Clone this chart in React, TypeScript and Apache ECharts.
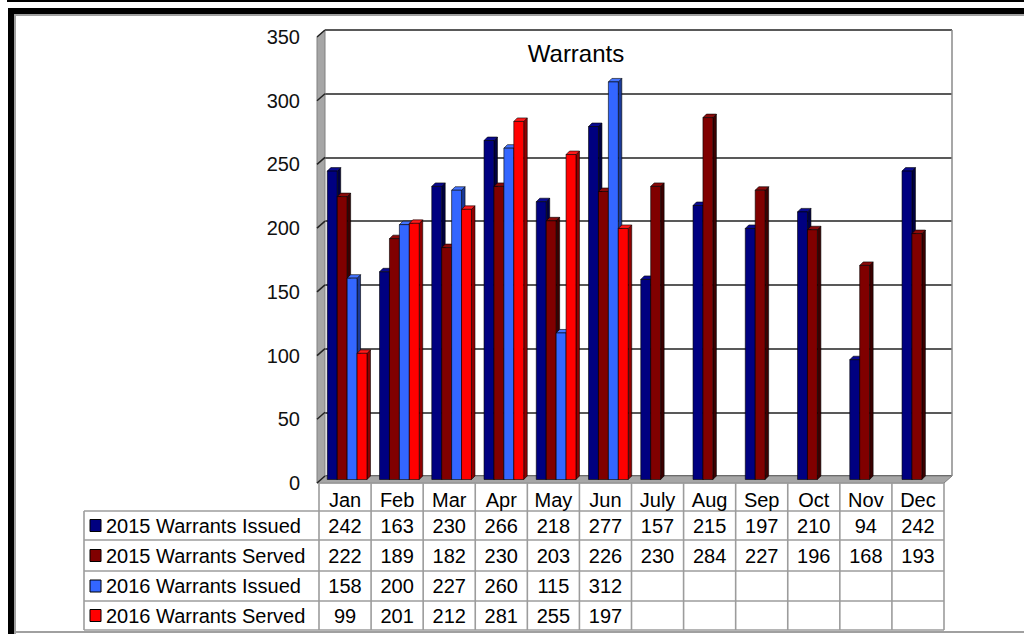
import React, { useEffect, useRef } from "react";
import * as echarts from "echarts";

const MONTHS = ["Jan", "Feb", "Mar", "Apr", "May", "Jun", "July", "Aug", "Sep", "Oct", "Nov", "Dec"];
const ISSUED_2015 = [242, 163, 230, 266, 218, 277, 157, 215, 197, 210, 94, 242];
const SERVED_2015 = [222, 189, 182, 230, 203, 226, 230, 284, 227, 196, 168, 193];
const ISSUED_2016 = [158, 200, 227, 260, 115, 312, null, null, null, null, null, null];
const SERVED_2016 = [99, 201, 212, 281, 255, 197, null, null, null, null, null, null];
const SERIES_NAMES = ["2015 Warrants Issued", "2015 Warrants Served", "2016 Warrants Issued", "2016 Warrants Served"];
const Y_TICKS = [0, 50, 100, 150, 200, 250, 300, 350];

const SERIES_VALUES: (number | null)[][] = [ISSUED_2015, SERVED_2015, ISSUED_2016, SERVED_2016];
const COLORS = [
  { front: "#000080", side: "#000040", top: "#0a0a90" },
  { front: "#800000", side: "#3c0000", top: "#8a0a0a" },
  { front: "#3366FF", side: "#1a3a99", top: "#4474ff" },
  { front: "#FF0000", side: "#900000", top: "#ff1a1a" },
];

const FONT = "Liberation Sans, Arial, sans-serif";
const W = 1024;
const H = 634;
const GL = 325;
const GR = 952;
const GT = 30;
const GB = 476;
const DX = 8;
const DY = 7;
const YMAX = 350;

function buildGraphics() {
  const els: any[] = [];
  // outer frame
  els.push({ type: "rect", shape: { x: 7, y: 0, width: W - 7, height: 2 }, style: { fill: "#000" }, z: 20 });
  els.push({ type: "rect", shape: { x: 8, y: 8, width: W - 8, height: 6 }, style: { fill: "#000" }, z: 20 });
  els.push({ type: "rect", shape: { x: 8, y: 8, width: 6, height: H - 8 }, style: { fill: "#000" }, z: 20 });
  els.push({ type: "rect", shape: { x: 14, y: 14, width: W - 14, height: 2 }, style: { fill: "#a0a0a0" }, z: 20 });
  els.push({ type: "rect", shape: { x: 14, y: 14, width: 2, height: H - 14 }, style: { fill: "#a0a0a0" }, z: 20 });
  els.push({ type: "rect", shape: { x: 14, y: 631, width: W - 14, height: 2 }, style: { fill: "#a0a0a0" }, z: 20 });

  // left wall
  els.push({
    type: "polygon",
    shape: { points: [[GL - DX, GT + DY], [GL, GT], [GL, GB], [GL - DX, GB + DY]] },
    style: { fill: "#a6a6a6", stroke: "#808080", lineWidth: 1 },
    z: 1,
  });
  const gh = GB - GT;
  Y_TICKS.forEach((v) => {
    const y = GT + ((YMAX - v) / YMAX) * gh;
    els.push({
      type: "line",
      shape: { x1: GL - DX, y1: y + DY, x2: GL, y2: y },
      style: { stroke: "#222", lineWidth: 1.5 },
      z: 3,
    });
    // tick label at the front edge of the wall
    els.push({
      type: "text",
      x: 300,
      y: y + DY,
      style: { text: String(v), fill: "#111", font: `20px ${FONT}`, align: "right", verticalAlign: "middle" },
      z: 11,
    });
  });
  // floor
  els.push({
    type: "polygon",
    shape: { points: [[GL, GB], [GR, GB], [GR - DX, GB + DY], [GL - DX, GB + DY]] },
    style: { fill: "#a6a6a6", stroke: "#808080", lineWidth: 1 },
    z: 1,
  });
  // back wall right edge
  els.push({ type: "line", shape: { x1: GR, y1: GT, x2: GR, y2: GB }, style: { stroke: "#8a8a8a", lineWidth: 1.5 }, z: 1 });

  // data table
  const TL = GL - 6;
  const colW = (GR - GL - 2) / 12;
  const TR = TL + colW * 12;
  const LEG_L = 84;
  const ROW_Y = [483, 511, 540, 571, 601, 630];
  const lineStyle = { stroke: "#9c9c9c", lineWidth: 1.6 };
  els.push({ type: "line", shape: { x1: TL, y1: ROW_Y[0], x2: TR, y2: ROW_Y[0] }, style: lineStyle, z: 10 });
  for (let r = 1; r < ROW_Y.length; r++) {
    els.push({ type: "line", shape: { x1: LEG_L, y1: ROW_Y[r], x2: TR, y2: ROW_Y[r] }, style: lineStyle, z: 10 });
  }
  els.push({ type: "line", shape: { x1: LEG_L, y1: ROW_Y[1], x2: LEG_L, y2: ROW_Y[5] }, style: lineStyle, z: 10 });
  for (let c = 0; c <= 12; c++) {
    const x = TL + c * colW;
    els.push({ type: "line", shape: { x1: x, y1: ROW_Y[0], x2: x, y2: ROW_Y[5] }, style: lineStyle, z: 10 });
  }
  const centers = [500, 525.5, 555.5, 586, 615.5];
  MONTHS.forEach((m, i) => {
    els.push({
      type: "text",
      x: TL + (i + 0.5) * colW,
      y: centers[0],
      style: { text: m, fill: "#000", font: `20px ${FONT}`, align: "center", verticalAlign: "middle" },
      z: 11,
    });
  });
  SERIES_NAMES.forEach((name, r) => {
    const cy = centers[r + 1];
    els.push({
      type: "rect",
      shape: { x: 90, y: cy - 6, width: 11, height: 12 },
      style: { fill: COLORS[r].front, stroke: "#000", lineWidth: 1 },
      z: 11,
    });
    els.push({
      type: "text",
      x: 106,
      y: cy,
      style: { text: name, fill: "#000", font: `20px ${FONT}`, align: "left", verticalAlign: "middle" },
      z: 11,
    });
    SERIES_VALUES[r].forEach((v, i) => {
      if (v === null) return;
      els.push({
        type: "text",
        x: TL + (i + 0.5) * colW,
        y: cy,
        style: { text: String(v), fill: "#000", font: `20px ${FONT}`, align: "center", verticalAlign: "middle" },
        z: 11,
      });
    });
  });
  return els;
}

function makeSeries(s: number) {
  const c = COLORS[s];
  const data = SERIES_VALUES[s]
    .map((v, i) => (v === null ? null : [i, v]))
    .filter((d) => d !== null);
  return {
    type: "custom",
    name: SERIES_NAMES[s],
    z: 2,
    encode: { x: 0, y: 1 },
    data,
    renderItem: (params: any, api: any) => {
      const idx = api.value(0);
      const val = api.value(1);
      const p = api.coord([idx, val]);
      const b = api.coord([idx, 0]);
      const catW = api.size([1, 0])[0];
      const w = catW * 0.19;
      const d = 3.5;
      const x0 = p[0] - 2 * w - 4 + s * w;
      const yt = p[1] + 3.5;
      const yb = b[1] + 3.5;
      const st = { stroke: "#000", lineWidth: 0.6 };
      return {
        type: "group",
        children: [
          {
            type: "polygon",
            shape: { points: [[x0 + w, yt], [x0 + w + d, yt - d], [x0 + w + d, yb - d], [x0 + w, yb]] },
            style: { fill: c.side, ...st },
          },
          {
            type: "polygon",
            shape: { points: [[x0, yt], [x0 + d, yt - d], [x0 + w + d, yt - d], [x0 + w, yt]] },
            style: { fill: c.top, ...st },
          },
          {
            type: "rect",
            shape: { x: x0, y: yt, width: w, height: yb - yt },
            style: { fill: c.front, ...st },
          },
        ],
      };
    },
  };
}

export default function App() {
  const ref = useRef<HTMLDivElement>(null);
  useEffect(() => {
    if (!ref.current) return;
    const chart = echarts.init(ref.current, null, { renderer: "svg" });
    chart.setOption({
      animation: false,
      backgroundColor: "#fff",
      title: {
        text: "Warrants",
        left: 576,
        top: 41,
        textAlign: "center",
        padding: 0,
        textStyle: { fontFamily: FONT, fontSize: 24, fontWeight: "normal", color: "#000" },
      },
      grid: { left: GL, right: W - GR, top: GT, bottom: H - GB },
      xAxis: {
        type: "category",
        data: MONTHS,
        axisLine: { show: false },
        axisTick: { show: false },
        axisLabel: { show: false },
      },
      yAxis: {
        type: "value",
        min: 0,
        max: YMAX,
        interval: 50,
        axisLine: { show: false },
        axisTick: { show: false },
        axisLabel: { show: false },
        splitLine: { lineStyle: { color: "#222", width: 1.5 } },
      },
      graphic: buildGraphics(),
      series: [0, 1, 2, 3].map(makeSeries),
    });
    return () => chart.dispose();
  }, []);
  return (
    <div
      ref={ref}
      style={{ position: "fixed", left: 0, top: 0, width: W, height: H, background: "#fff" }}
    />
  );
}
